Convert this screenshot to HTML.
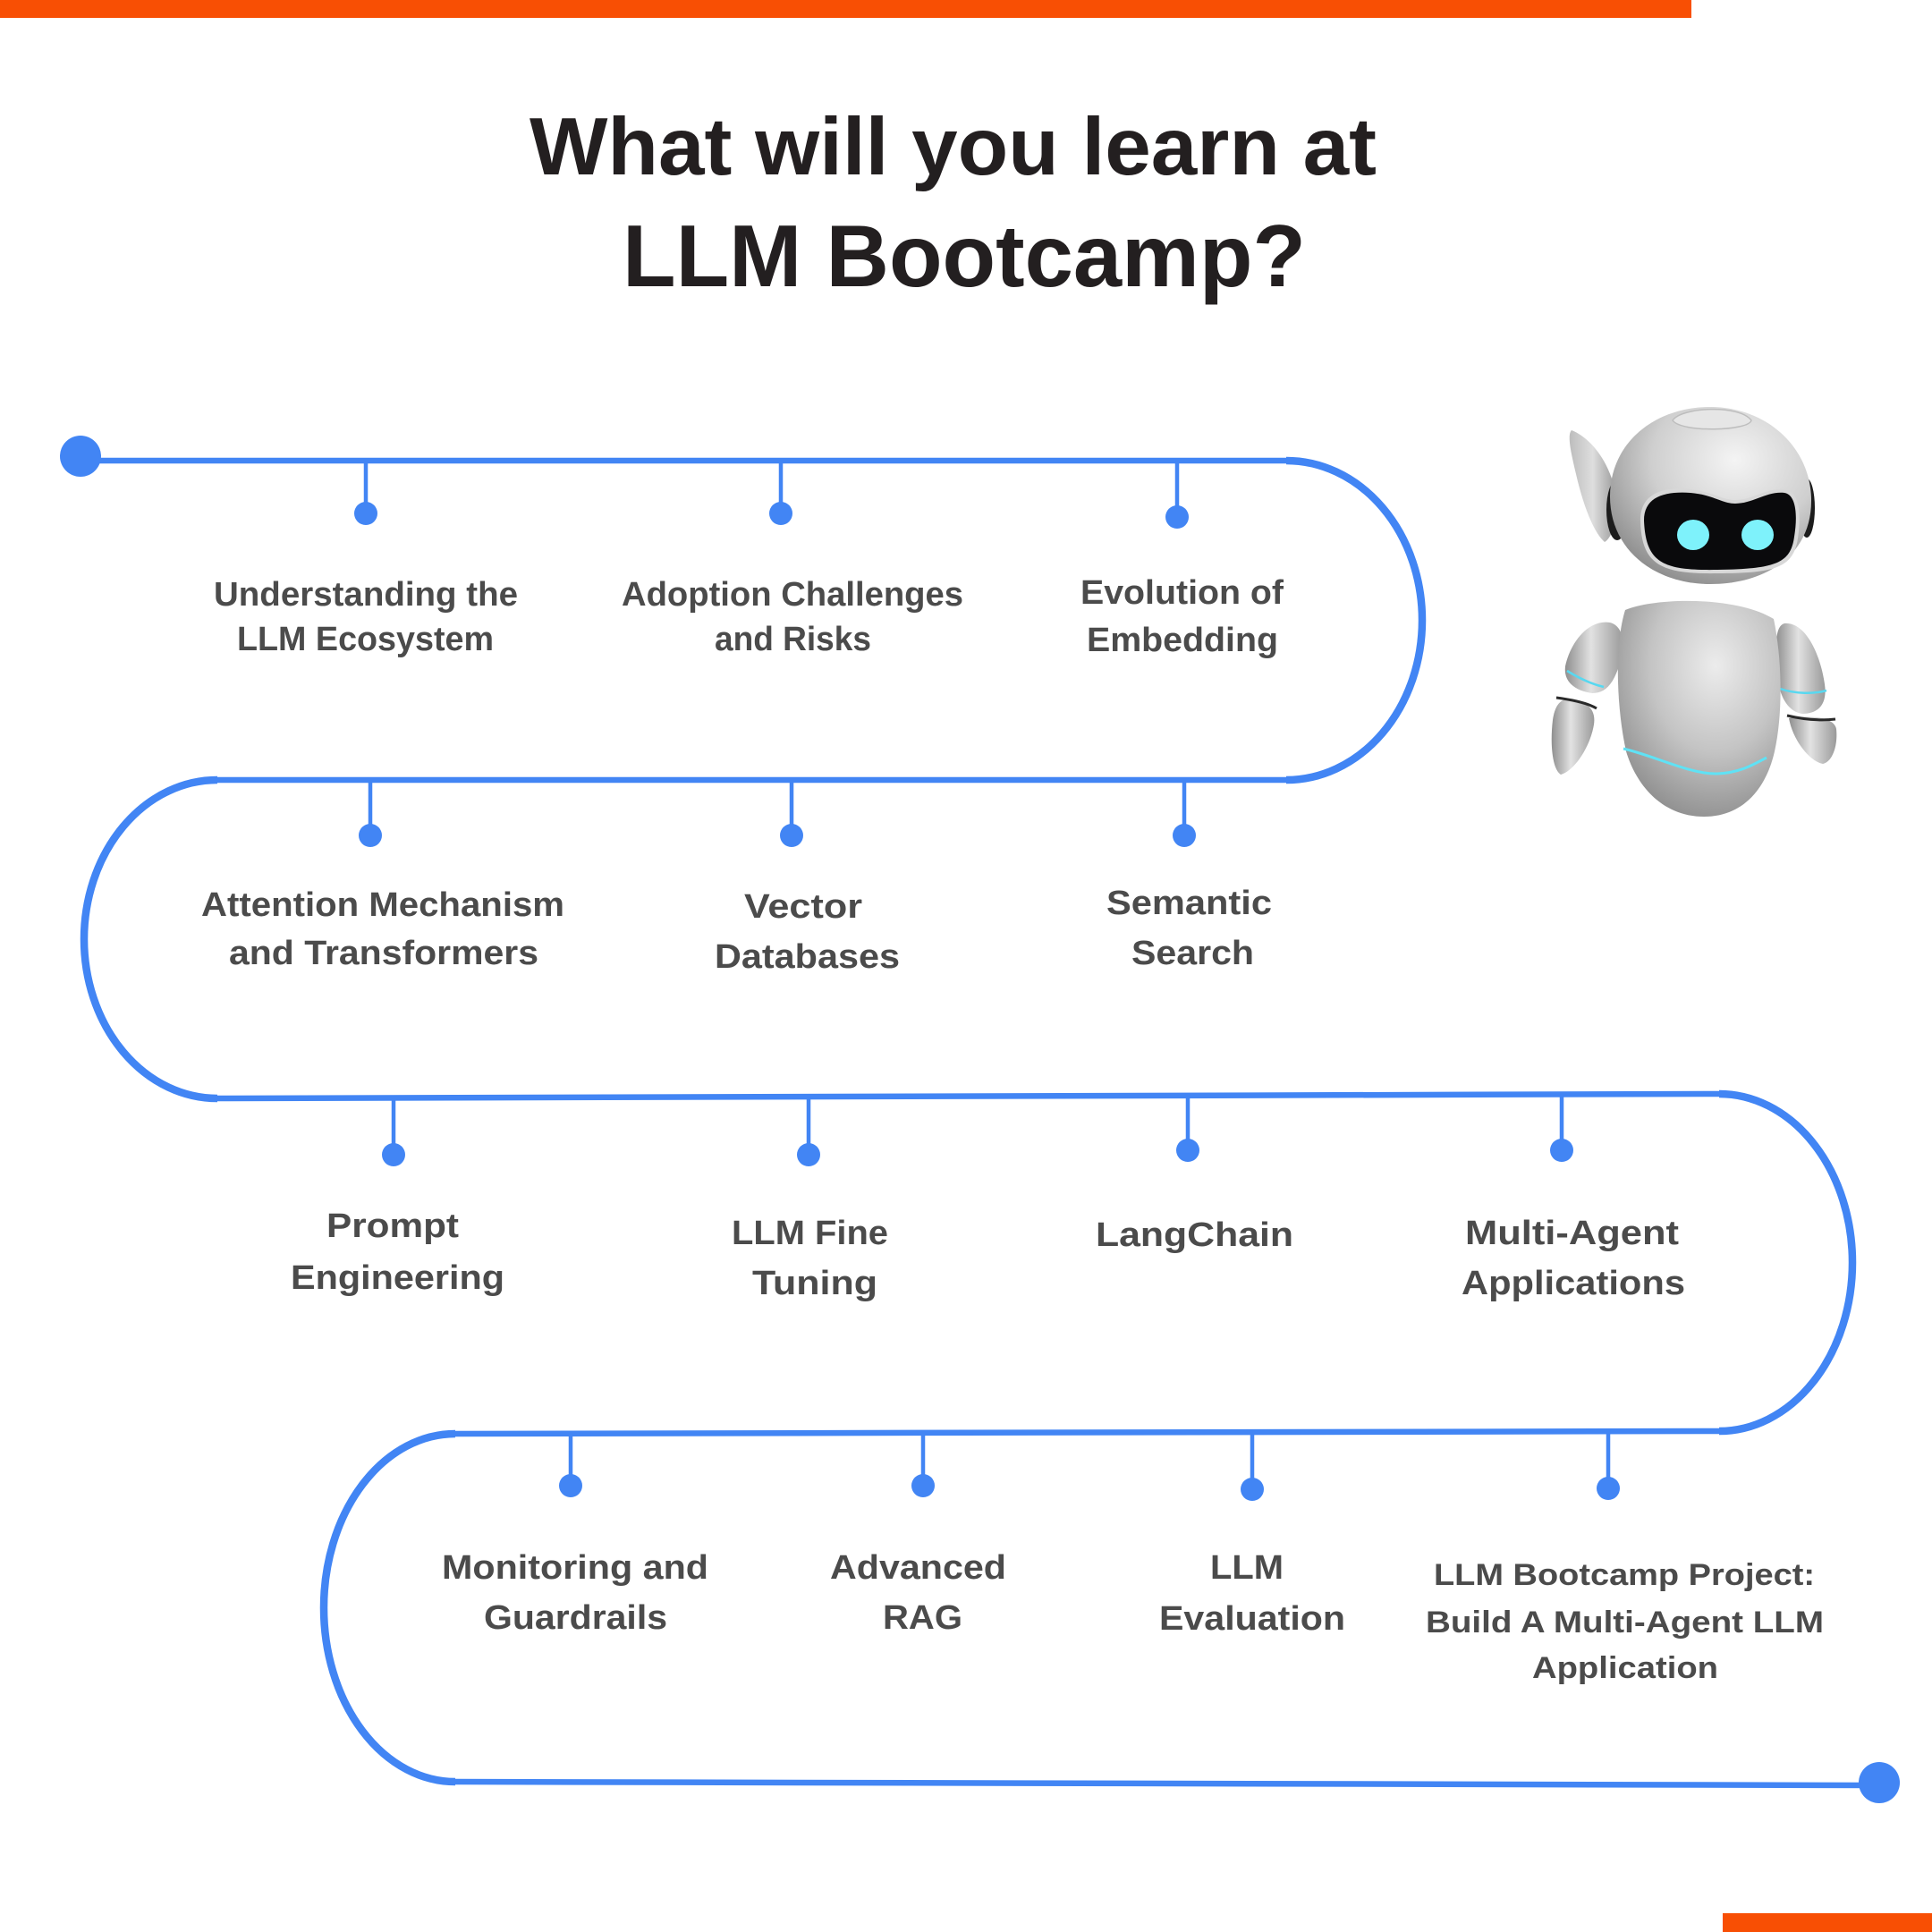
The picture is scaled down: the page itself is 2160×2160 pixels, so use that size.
<!DOCTYPE html>
<html>
<head>
<meta charset="utf-8">
<style>
html,body{margin:0;padding:0;background:#fff;}
body{width:2160px;height:2160px;overflow:hidden;}
svg{display:block;}
.t{font-family:"Liberation Sans",sans-serif;font-weight:bold;fill:#231f20;}
.l{font-family:"Liberation Sans",sans-serif;font-weight:bold;fill:#4b4b4b;font-size:38px;}
.s{font-size:34px;}
</style>
</head>
<body>
<svg width="2160" height="2160" viewBox="0 0 2160 2160" xmlns="http://www.w3.org/2000/svg">
<defs>
  <radialGradient id="gHead" cx="0.62" cy="0.3" r="0.75">
    <stop offset="0" stop-color="#f4f4f4"/>
    <stop offset="0.55" stop-color="#cfcfcf"/>
    <stop offset="1" stop-color="#8d8d8d"/>
  </radialGradient>
  <radialGradient id="gBody" cx="0.6" cy="0.3" r="0.8">
    <stop offset="0" stop-color="#ececec"/>
    <stop offset="0.5" stop-color="#c4c4c4"/>
    <stop offset="1" stop-color="#858585"/>
  </radialGradient>
  <linearGradient id="gArm" x1="0" y1="0" x2="1" y2="0">
    <stop offset="0" stop-color="#8f8f8f"/>
    <stop offset="0.45" stop-color="#e2e2e2"/>
    <stop offset="1" stop-color="#9a9a9a"/>
  </linearGradient>
  <linearGradient id="gFin" x1="0" y1="0" x2="1" y2="0">
    <stop offset="0" stop-color="#bdbdbd"/>
    <stop offset="0.5" stop-color="#dedede"/>
    <stop offset="1" stop-color="#9a9a9a"/>
  </linearGradient>
</defs>

<!-- orange bars -->
<rect x="0" y="0" width="1891" height="20" fill="#f84f04"/>
<rect x="1926" y="2139" width="234" height="21" fill="#f84f04"/>

<!-- title -->
<text class="t" x="592" y="195" font-size="91" textLength="947" lengthAdjust="spacingAndGlyphs">What will you learn at</text>
<text class="t" x="696" y="320" font-size="98" textLength="764" lengthAdjust="spacingAndGlyphs">LLM Bootcamp?</text>

<!-- timeline straight lines -->
<g stroke="#4285f4" fill="none" stroke-width="6.5">
  <line x1="90" y1="515" x2="1440" y2="515"/>
  <line x1="1440" y1="872" x2="241" y2="872"/>
  <line x1="241" y1="1228" x2="1924" y2="1223"/>
  <line x1="1924" y1="1600" x2="507" y2="1603"/>
  <line x1="507" y1="1992" x2="2101" y2="1996"/>
</g>
<!-- arcs -->
<g stroke="#4285f4" fill="none" stroke-width="8.5">
  <path d="M1438 515 A152 178.5 0 0 1 1438 872"/>
  <path d="M243 872 A149 178 0 0 0 243 1228"/>
  <path d="M1922 1223 A149 188.5 0 0 1 1922 1600"/>
  <path d="M509 1603 A147 194.5 0 0 0 509 1992"/>
</g>

<!-- end dots -->
<circle cx="90" cy="510" r="23" fill="#4285f4"/>
<circle cx="2101" cy="1993" r="23" fill="#4285f4"/>

<!-- ticks -->
<g stroke="#4285f4" stroke-width="4.5">
  <line x1="409" y1="515" x2="409" y2="574"/>
  <line x1="873" y1="515" x2="873" y2="574"/>
  <line x1="1316" y1="515" x2="1316" y2="578"/>
  <line x1="414" y1="872" x2="414" y2="934"/>
  <line x1="885" y1="872" x2="885" y2="934"/>
  <line x1="1324" y1="872" x2="1324" y2="934"/>
  <line x1="440" y1="1228" x2="440" y2="1291"/>
  <line x1="904" y1="1227" x2="904" y2="1291"/>
  <line x1="1328" y1="1225" x2="1328" y2="1286"/>
  <line x1="1746" y1="1223" x2="1746" y2="1286"/>
  <line x1="638" y1="1603" x2="638" y2="1661"/>
  <line x1="1032" y1="1602" x2="1032" y2="1661"/>
  <line x1="1400" y1="1602" x2="1400" y2="1665"/>
  <line x1="1798" y1="1601" x2="1798" y2="1664"/>
</g>
<g fill="#4285f4">
  <circle cx="409" cy="574" r="13"/>
  <circle cx="873" cy="574" r="13"/>
  <circle cx="1316" cy="578" r="13"/>
  <circle cx="414" cy="934" r="13"/>
  <circle cx="885" cy="934" r="13"/>
  <circle cx="1324" cy="934" r="13"/>
  <circle cx="440" cy="1291" r="13"/>
  <circle cx="904" cy="1291" r="13"/>
  <circle cx="1328" cy="1286" r="13"/>
  <circle cx="1746" cy="1286" r="13"/>
  <circle cx="638" cy="1661" r="13"/>
  <circle cx="1032" cy="1661" r="13"/>
  <circle cx="1400" cy="1665" r="13"/>
  <circle cx="1798" cy="1664" r="13"/>
</g>

<!-- labels row 1 -->
<text class="l" x="239" y="677" textLength="340" lengthAdjust="spacingAndGlyphs">Understanding the</text>
<text class="l" x="265" y="727" textLength="287" lengthAdjust="spacingAndGlyphs">LLM Ecosystem</text>
<text class="l" x="695" y="677" textLength="382" lengthAdjust="spacingAndGlyphs">Adoption Challenges</text>
<text class="l" x="799" y="727" textLength="175" lengthAdjust="spacingAndGlyphs">and Risks</text>
<text class="l" x="1208" y="675" textLength="227" lengthAdjust="spacingAndGlyphs">Evolution of</text>
<text class="l" x="1215" y="728" textLength="214" lengthAdjust="spacingAndGlyphs">Embedding</text>

<!-- labels row 2 -->
<text class="l" x="225" y="1024" textLength="406" lengthAdjust="spacingAndGlyphs">Attention Mechanism</text>
<text class="l" x="256" y="1078" textLength="346" lengthAdjust="spacingAndGlyphs">and Transformers</text>
<text class="l" x="832" y="1026" font-size="39" textLength="132" lengthAdjust="spacingAndGlyphs">Vector</text>
<text class="l" x="799" y="1082" font-size="39" textLength="207" lengthAdjust="spacingAndGlyphs">Databases</text>
<text class="l" x="1237" y="1022" font-size="39" textLength="185" lengthAdjust="spacingAndGlyphs">Semantic</text>
<text class="l" x="1265" y="1078" font-size="39" textLength="137" lengthAdjust="spacingAndGlyphs">Search</text>

<!-- labels row 3 -->
<text class="l" x="365" y="1383" textLength="148" lengthAdjust="spacingAndGlyphs">Prompt</text>
<text class="l" x="325" y="1441" textLength="239" lengthAdjust="spacingAndGlyphs">Engineering</text>
<text class="l" x="818" y="1391" textLength="175" lengthAdjust="spacingAndGlyphs">LLM Fine</text>
<text class="l" x="841" y="1447" textLength="140" lengthAdjust="spacingAndGlyphs">Tuning</text>
<text class="l" x="1225" y="1393" textLength="221" lengthAdjust="spacingAndGlyphs">LangChain</text>
<text class="l" x="1638" y="1391" textLength="239" lengthAdjust="spacingAndGlyphs">Multi-Agent</text>
<text class="l" x="1634" y="1447" textLength="250" lengthAdjust="spacingAndGlyphs">Applications</text>

<!-- labels row 4 -->
<text class="l" x="494" y="1765" textLength="298" lengthAdjust="spacingAndGlyphs">Monitoring and</text>
<text class="l" x="541" y="1821" textLength="205" lengthAdjust="spacingAndGlyphs">Guardrails</text>
<text class="l" x="928" y="1765" textLength="197" lengthAdjust="spacingAndGlyphs">Advanced</text>
<text class="l" x="987" y="1821" textLength="89" lengthAdjust="spacingAndGlyphs">RAG</text>
<text class="l" x="1353" y="1765" textLength="82" lengthAdjust="spacingAndGlyphs">LLM</text>
<text class="l" x="1296" y="1822" textLength="208" lengthAdjust="spacingAndGlyphs">Evaluation</text>
<text class="l s" x="1603" y="1772" textLength="426" lengthAdjust="spacingAndGlyphs">LLM Bootcamp Project:</text>
<text class="l s" x="1594" y="1825" textLength="445" lengthAdjust="spacingAndGlyphs">Build A Multi-Agent LLM</text>
<text class="l s" x="1713" y="1876" textLength="208" lengthAdjust="spacingAndGlyphs">Application</text>

<!-- robot -->
<g>
  <!-- left fin -->
  <path d="M1757 481 C1775 488 1796 510 1805 545 C1810 575 1804 600 1794 606 C1782 596 1770 565 1762 530 C1756 505 1752 486 1757 481 Z" fill="url(#gFin)"/>
  <!-- ears -->
  <ellipse cx="1808" cy="570" rx="12" ry="34" fill="#1c1c1c"/>
  <ellipse cx="2020" cy="568" rx="9" ry="33" fill="#1c1c1c"/>
  <!-- head -->
  <path d="M1912 455 C1975 455 2025 500 2025 560 C2025 620 1975 653 1912 653 C1850 653 1800 615 1800 555 C1800 495 1850 455 1912 455 Z" fill="url(#gHead)"/>
  <path d="M1870 470 C1880 455 1945 452 1958 470 C1955 482 1880 484 1870 470 Z" fill="#e6e6e6" stroke="#bdbdbd" stroke-width="1.5"/>
  <!-- visor rim -->
  <path d="M1834 582 C1834 552 1858 544 1890 547 C1915 550 1925 559 1940 559 C1960 559 1975 545 1996 547 C2012 550 2014 575 2010 602 C2005 634 1986 641 1920 641 C1858 642 1835 632 1834 582 Z" fill="#d8d8d8"/>
  <!-- visor -->
  <path d="M1838 582 C1838 556 1860 549 1890 551 C1915 553 1925 563 1940 563 C1960 563 1975 549 1995 551 C2008 553 2010 576 2006 600 C2002 630 1985 636 1920 637 C1860 638 1840 630 1838 582 Z" fill="#0a0a0c"/>
  <ellipse cx="1893" cy="598" rx="18" ry="17" fill="#7ef2fb"/>
  <ellipse cx="1965" cy="598" rx="18" ry="17" fill="#7ef2fb"/>
  <!-- left arm -->
  <path d="M1800 696 C1815 700 1818 720 1810 745 C1803 765 1795 775 1780 775 C1760 772 1748 762 1750 745 C1755 720 1775 692 1800 696 Z" fill="url(#gArm)"/>
  <path d="M1752 750 C1765 758 1780 765 1793 768" stroke="#58d8f0" stroke-width="2.5" fill="none"/>
  <path d="M1752 782 C1770 782 1785 790 1782 810 C1778 835 1760 862 1745 866 C1735 860 1733 830 1736 805 C1738 790 1744 782 1752 782 Z" fill="url(#gArm)"/>
  <path d="M1740 780 C1755 782 1775 786 1785 792" stroke="#2a2a2a" stroke-width="3" fill="none"/>
  <!-- right arm -->
  <path d="M1995 697 C2018 695 2035 730 2040 765 C2043 785 2035 798 2015 798 C2000 796 1990 780 1988 760 C1985 730 1983 700 1995 697 Z" fill="url(#gArm)"/>
  <path d="M1990 770 C2008 776 2028 776 2042 772" stroke="#58d8f0" stroke-width="2.5" fill="none"/>
  <path d="M2000 803 C2020 800 2050 800 2053 815 C2055 835 2048 852 2038 854 C2025 852 2005 830 2000 803 Z" fill="url(#gArm)"/>
  <path d="M1998 800 C2015 804 2035 806 2052 804" stroke="#2a2a2a" stroke-width="3" fill="none"/>
  <!-- body -->
  <path d="M1817 682 C1850 668 1940 666 1983 692 C1993 740 1993 800 1984 840 C1975 880 1950 913 1905 913 C1860 913 1830 880 1818 840 C1807 790 1805 720 1817 682 Z" fill="url(#gBody)"/>
  <path d="M1815 837 C1850 845 1890 866 1920 865 C1945 864 1960 855 1975 847" stroke="#5fe2f5" stroke-width="3" fill="none"/>
</g>
</svg>
</body>
</html>
